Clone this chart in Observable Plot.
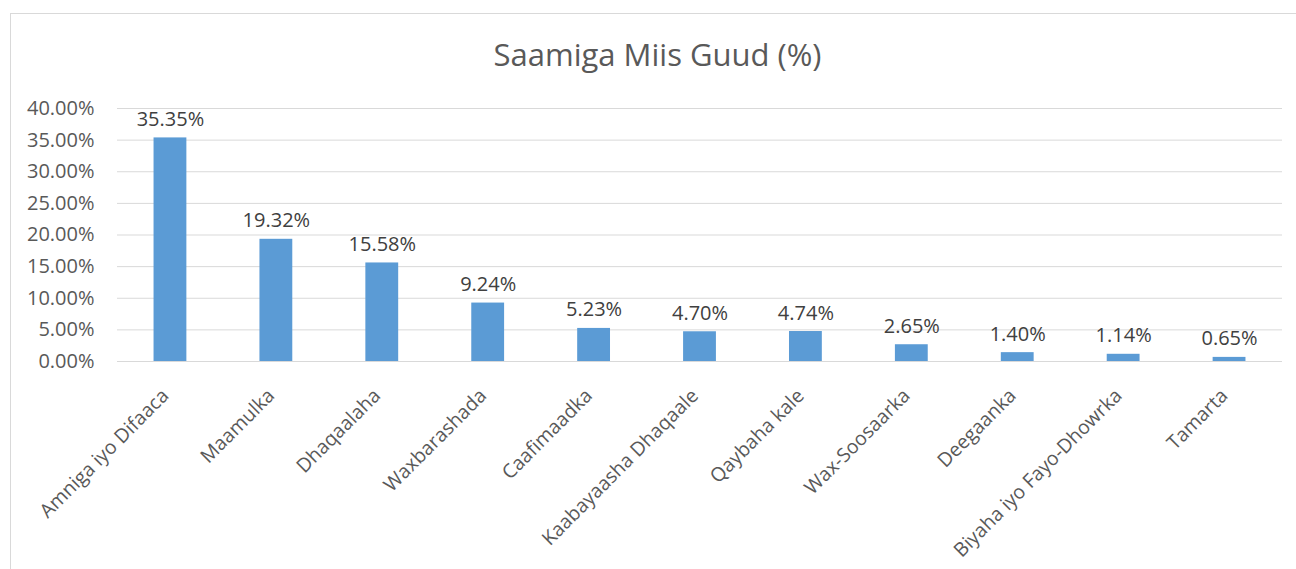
<!DOCTYPE html>
<html>
<head>
<meta charset="utf-8">
<script src="https://cdn.jsdelivr.net/npm/d3@7"></script>
<script src="https://cdn.jsdelivr.net/npm/@observablehq/plot@0.6"></script>
<style>
  html, body { margin: 0; padding: 0; background: #fff; }
  #wrap { position: relative; width: 1296px; height: 569px; overflow: hidden; font-family: "Open Sans", sans-serif; }
  #border { position: absolute; left: 10px; top: 13px; width: 1400px; height: 700px; border: 1px solid #d9d9d9; box-sizing: border-box; }
  #title { position: absolute; left: 0; top: 35px; width: 1315px; text-align: center; font-size: 31px; line-height: 38px; color: #595959; }
  #chart { position: absolute; left: 0; top: 0; }
</style>
</head>
<body>
<div id="wrap">
  <div id="border"></div>
  <div id="chart"></div>
  <div id="title">Saamiga Miis Guud (%)</div>
</div>
<script>
const categories = ["Amniga iyo Difaaca", "Maamulka", "Dhaqaalaha", "Waxbarashada", "Caafimaadka", "Kaabayaasha Dhaqaale", "Qaybaha kale", "Wax-Soosaarka", "Deegaanka", "Biyaha iyo Fayo-Dhowrka", "Tamarta"];
const values = [35.35, 19.32, 15.58, 9.24, 5.23, 4.70, 4.74, 2.65, 1.40, 1.14, 0.65];
const yTicks = [0, 5, 10, 15, 20, 25, 30, 35, 40];

const data = categories.map((c, i) => ({category: c, value: values[i]}));
const fmt = v => v.toFixed(2) + "%";

const chart = Plot.plot({
  width: 1296,
  height: 569,
  marginTop: 108,
  marginBottom: 208,
  marginLeft: 117,
  marginRight: 14,
  style: {fontFamily: "'Open Sans', sans-serif", fontSize: "20px", color: "#595959", background: "transparent"},
  x: {domain: categories, paddingInner: 0.69, paddingOuter: 0.345, align: 0.5, round: false, axis: null},
  y: {domain: [0, 40], ticks: yTicks},
  marks: [
    Plot.ruleY(yTicks, {stroke: "#d9d9d9", strokeWidth: 1, strokeOpacity: 1}),
    Plot.axisY({ticks: yTicks, tickSize: 0, tickPadding: 23, tickFormat: fmt, fill: "#595959", fontSize: 20, label: null}),
    Plot.barY(data, {x: "category", y: "value", fill: "#5B9BD5"}),
    Plot.text(data, {x: "category", y: "value", text: d => fmt(d.value), lineAnchor: "bottom", dy: -12, fill: "#404040", fontSize: 20}),
    Plot.text(data, {x: "category", frameAnchor: "bottom", text: "category", rotate: -45, textAnchor: "end", lineAnchor: "middle", dx: -5, dy: 31, fill: "#595959", fontSize: 19.5})
  ]
});
document.getElementById("chart").appendChild(chart);
</script>
</body>
</html>
